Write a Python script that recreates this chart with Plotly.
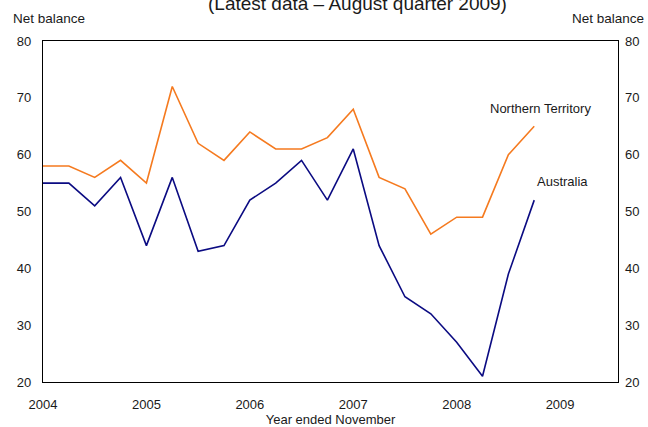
import plotly.graph_objects as go

# Quarterly observations, year ended November
quarters = [2004.0, 2004.25, 2004.5, 2004.75,
            2005.0, 2005.25, 2005.5, 2005.75,
            2006.0, 2006.25, 2006.5, 2006.75,
            2007.0, 2007.25, 2007.5, 2007.75,
            2008.0, 2008.25, 2008.5, 2008.75]

northern_territory = [58, 58, 56, 59, 55, 72, 62, 59, 64, 61,
                      61, 63, 68, 56, 54, 46, 49, 49, 60, 65]
australia = [55, 55, 51, 56, 44, 56, 43, 44, 52, 55,
             59, 52, 61, 44, 35, 32, 27, 21, 39, 52]

year_ticks = [2004, 2005, 2006, 2007, 2008, 2009]
value_ticks = [20, 30, 40, 50, 60, 70, 80]

FONT = "Liberation Sans, Arial, sans-serif"
TEXT = "#1a1a1a"

# plot-area geometry in pixels
W, H = 648, 427
L, R, T, B = 43, 30, 41, 45
plot_w = W - L - R
plot_h = H - T - B


def px_x(x):
    return (x - L) / plot_w


def px_y(y):
    return 1 + (T - y) / plot_h


fig = go.Figure()
fig.add_trace(go.Scatter(x=quarters, y=northern_territory, mode="lines",
                         line=dict(color="#f57a1f", width=1.6),
                         name="Northern Territory", showlegend=False))
fig.add_trace(go.Scatter(x=quarters, y=australia, mode="lines",
                         line=dict(color="#0b0b82", width=1.6),
                         name="Australia", showlegend=False))
# invisible trace to carry the right-hand axis
fig.add_trace(go.Scatter(x=[quarters[0]], y=[australia[0]], yaxis="y2",
                         mode="markers", marker=dict(opacity=0),
                         showlegend=False, hoverinfo="skip"))

axis_common = dict(showgrid=False, zeroline=False, ticks="", automargin=False,
                   tickfont=dict(family=FONT, size=13, color=TEXT))

fig.update_layout(
    width=W, height=H,
    margin=dict(l=L, r=R, t=T, b=B),
    paper_bgcolor="white", plot_bgcolor="white",
    font=dict(family=FONT, size=13, color=TEXT),
    xaxis=dict(range=[2004, 2009.56], tickvals=year_ticks,
               ticktext=[str(y) for y in year_ticks],
               ticklabelstandoff=10,
               showline=True, linecolor="black", linewidth=1.3, mirror=True,
               title=dict(text="Year ended November", standoff=2,
                          font=dict(family=FONT, size=13, color=TEXT)),
               **axis_common),
    yaxis=dict(range=[20, 80], tickvals=value_ticks, ticklabelstandoff=8,
               showline=True, linecolor="black", linewidth=1.3, mirror=True,
               **axis_common),
    yaxis2=dict(range=[20, 80], tickvals=value_ticks, overlaying="y",
                side="right", showline=False, ticklabelstandoff=6,
                **axis_common),
    annotations=[
        dict(text="(Latest data \u2013 August quarter 2009)",
             xref="paper", yref="paper", x=px_x(358), y=px_y(3),
             yanchor="middle", showarrow=False,
             font=dict(family=FONT, size=19, color=TEXT)),
        dict(text="Net balance", xref="paper", yref="paper",
             x=px_x(11), y=px_y(18), xanchor="left", yanchor="middle",
             showarrow=False, font=dict(family=FONT, size=13.5, color=TEXT)),
        dict(text="Net balance", xref="paper", yref="paper",
             x=px_x(646), y=px_y(18), xanchor="right", yanchor="middle",
             showarrow=False, font=dict(family=FONT, size=13.5, color=TEXT)),
        dict(text="Northern Territory", x=2008.81, y=68.2, showarrow=False,
             font=dict(family=FONT, size=13, color=TEXT)),
        dict(text="Australia", x=2009.02, y=55.2, showarrow=False,
             font=dict(family=FONT, size=13, color=TEXT)),
    ],
)

fig.write_html("out.html")
